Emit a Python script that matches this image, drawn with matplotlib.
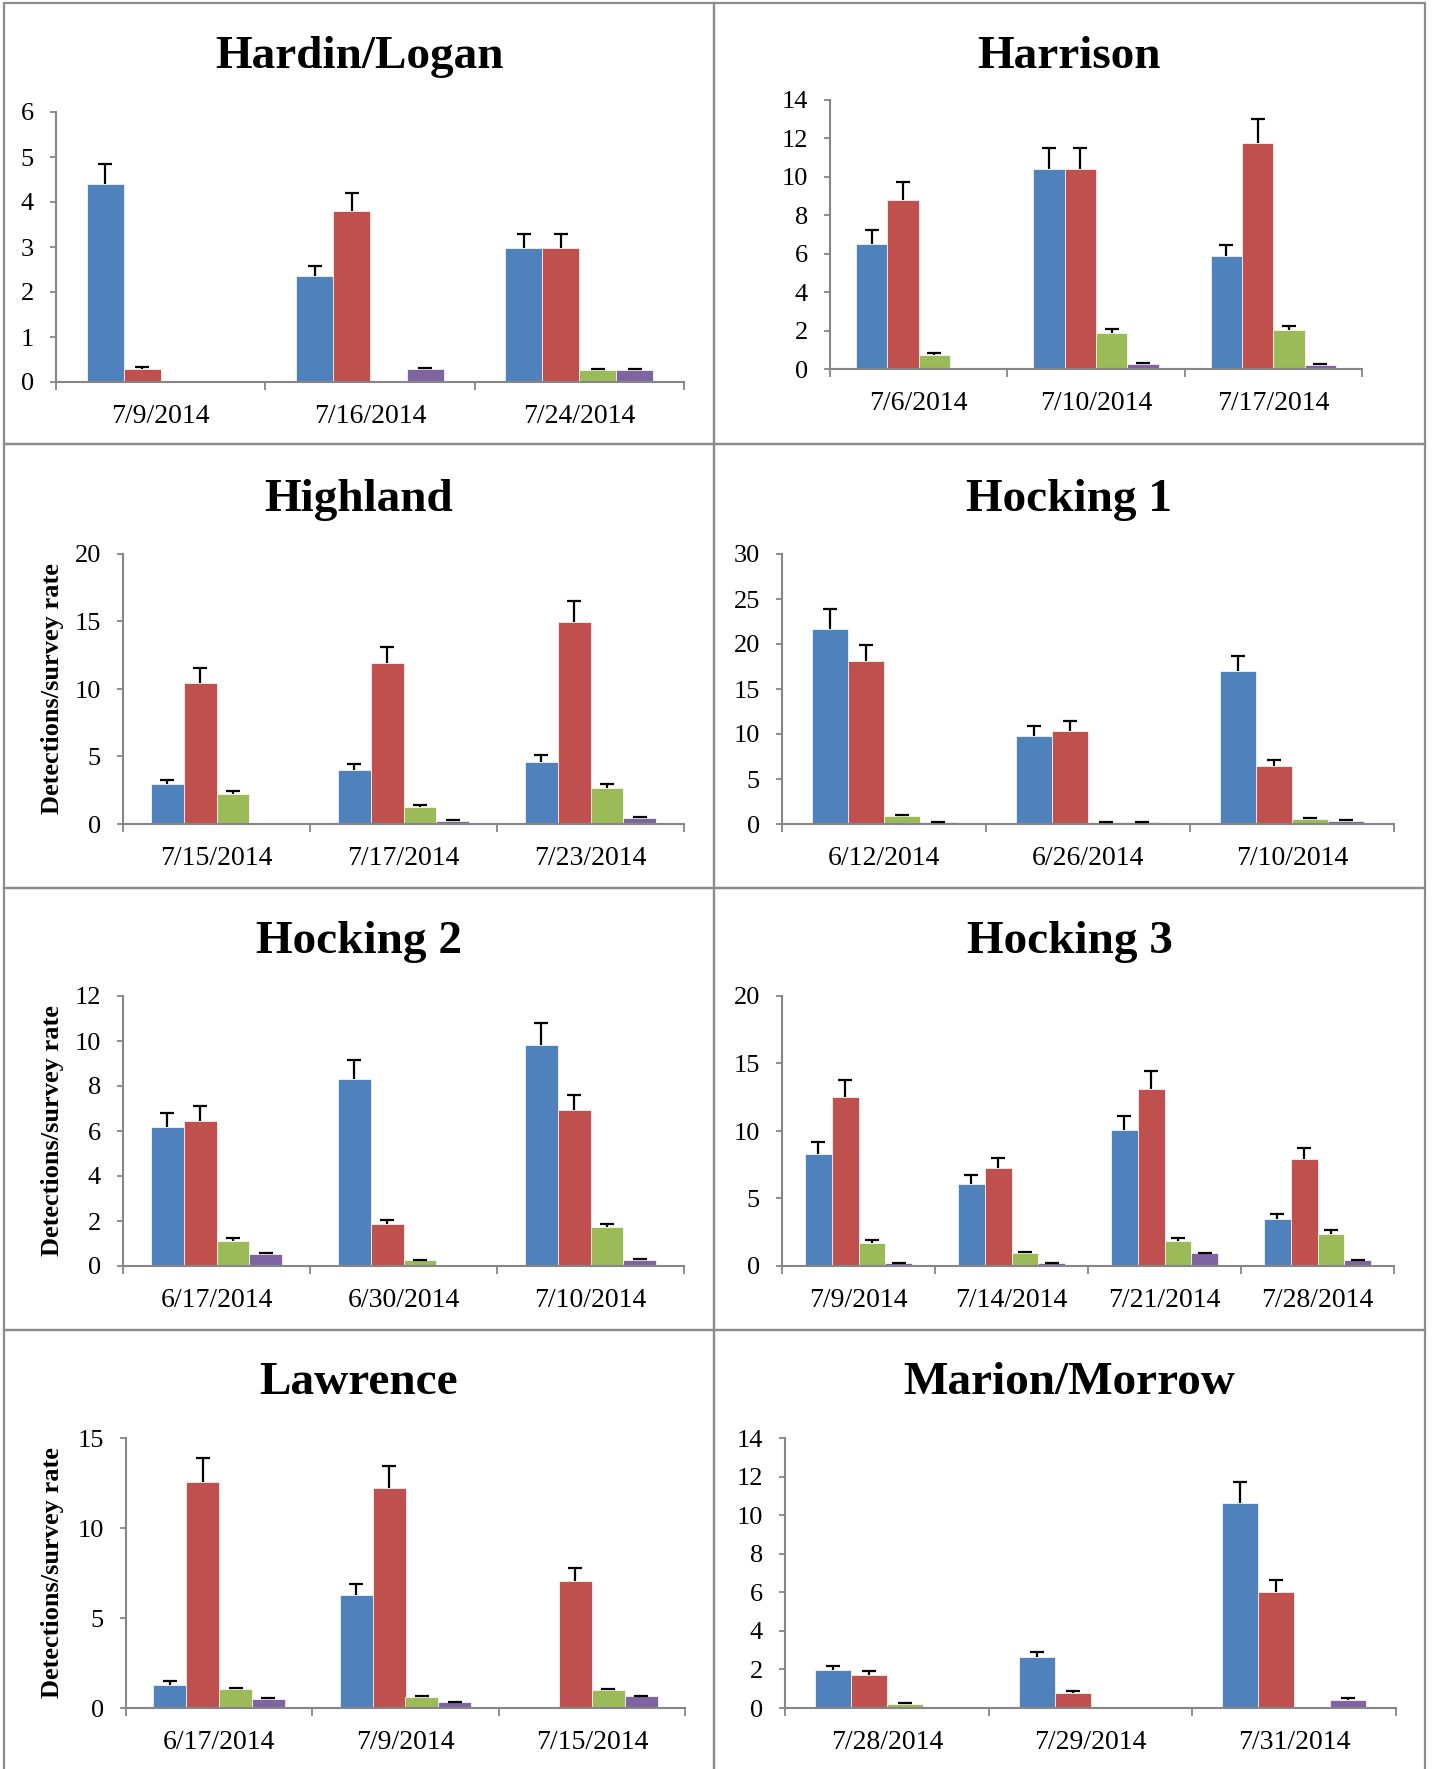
import matplotlib
matplotlib.use('Agg')
import matplotlib.pyplot as plt
from matplotlib.patches import Rectangle
import numpy as np

plt.rcParams['font.family'] = ['Liberation Serif', 'DejaVu Serif']

W, H = 1432, 1769
COLORS = ['#4F81BD', '#C0504D', '#9BBB59', '#8064A2']
AXIS_GRAY = '#868686'
YLABEL = 'Detections/survey rate'

# each county: survey dates, mean rate per series (blue, red, green, purple), SE per series
hardin_dates = ['7/9/2014', '7/16/2014', '7/24/2014']
hardin_means = [[4.41, 2.35, 2.98], [0.28, 3.81, 2.98], [0, 0, 0.26], [0, 0.28, 0.26]]
hardin_errs = [[0.44, 0.23, 0.30], [0.05, 0.40, 0.30], [0, 0, 0.02], [0, 0.03, 0.02]]

harrison_dates = ['7/6/2014', '7/10/2014', '7/17/2014']
harrison_means = [[6.53, 10.43, 5.87], [8.82, 10.43, 11.78], [0.73, 1.89, 2.01], [0, 0.24, 0.21]]
harrison_errs = [[0.68, 1.08, 0.59], [0.90, 1.08, 1.22], [0.08, 0.21, 0.24], [0, 0.05, 0.03]]

highland_dates = ['7/15/2014', '7/17/2014', '7/23/2014']
highland_means = [[2.96, 4.02, 4.62], [10.47, 11.90, 14.96], [2.22, 1.23, 2.67], [0, 0.22, 0.47]]
highland_errs = [[0.32, 0.45, 0.49], [1.09, 1.24, 1.56], [0.25, 0.15, 0.29], [0, 0.05, 0.03]]

hocking1_dates = ['6/12/2014', '6/26/2014', '7/10/2014']
hocking1_means = [[21.63, 9.81, 16.96], [18.07, 10.37, 6.41], [0.93, 0.22, 0.59], [0.22, 0.22, 0.37]]
hocking1_errs = [[2.22, 1.04, 1.74], [1.86, 1.07, 0.70], [0.07, 0.05, 0.04], [0.05, 0.05, 0.04]]

hocking2_dates = ['6/17/2014', '6/30/2014', '7/10/2014']
hocking2_means = [[6.18, 8.33, 9.81], [6.44, 1.87, 6.92], [1.10, 0.25, 1.72], [0.55, 0, 0.27]]
hocking2_errs = [[0.62, 0.84, 0.99], [0.67, 0.19, 0.69], [0.13, 0.03, 0.16], [0.03, 0, 0.03]]

hocking3_dates = ['7/9/2014', '7/14/2014', '7/21/2014', '7/28/2014']
hocking3_means = [[8.32, 6.10, 10.07, 3.51], [12.49, 7.26, 13.14, 7.93],
                  [1.70, 0.94, 1.85, 2.40], [0.22, 0.20, 0.94, 0.42]]
hocking3_errs = [[0.84, 0.62, 1.04, 0.37], [1.31, 0.76, 1.33, 0.79],
                 [0.20, 0.07, 0.20, 0.29], [0.03, 0.03, 0.05, 0.05]]

lawrence_dates = ['6/17/2014', '7/9/2014', '7/15/2014']
lawrence_means = [[1.30, 6.26, 0], [12.56, 12.20, 7.04], [1.04, 0.63, 1.00], [0.52, 0.31, 0.65]]
lawrence_errs = [[0.18, 0.63, 0], [1.31, 1.26, 0.74], [0.05, 0.04, 0.04], [0.04, 0.03, 0.04]]

marion_dates = ['7/28/2014', '7/29/2014', '7/31/2014']
marion_means = [[1.97, 2.64, 10.63], [1.71, 0.78, 6.00], [0.22, 0, 0], [0, 0, 0.43]]
marion_errs = [[0.22, 0.28, 1.07], [0.19, 0.08, 0.62], [0.04, 0, 0], [0, 0, 0.07]]

# (title, dates, means, errs, ymax, ystep, show ylabel, axes box in px: left, right, top, bottom)
panels = [
    ('Hardin/Logan', hardin_dates, hardin_means, hardin_errs, 6, 1, False, (56, 684, 112, 382)),
    ('Harrison', harrison_dates, harrison_means, harrison_errs, 14, 2, False, (830, 1362, 100, 369)),
    ('Highland', highland_dates, highland_means, highland_errs, 20, 5, True, (123, 684, 554, 824)),
    ('Hocking 1', hocking1_dates, hocking1_means, hocking1_errs, 30, 5, False, (782, 1394, 554, 824)),
    ('Hocking 2', hocking2_dates, hocking2_means, hocking2_errs, 12, 2, True, (123, 684, 996, 1266)),
    ('Hocking 3', hocking3_dates, hocking3_means, hocking3_errs, 20, 5, False, (782, 1394, 996, 1266)),
    ('Lawrence', lawrence_dates, lawrence_means, lawrence_errs, 15, 5, True, (126, 685, 1438, 1708)),
    ('Marion/Morrow', marion_dates, marion_means, marion_errs, 14, 2, False, (785, 1396, 1438, 1708)),
]

# frame boxes (left, right, top, bottom) and title baselines per row
col_edges = [(4, 714), (714, 1425)]
row_edges = [(3, 444), (444, 888), (888, 1330), (1330, 1775)]
title_baselines = [68, 511, 953, 1394]


def draw_panel(ax, dates, means, errs, ymax, ystep, ylabel):
    n = len(dates)
    x = np.arange(n)
    width = 1 / (4 + 1.67)
    for i, (m, e, c) in enumerate(zip(means, errs, COLORS)):
        xs = x + (i - 1.5) * width
        m = np.array(m, dtype=float)
        e = np.array(e, dtype=float)
        ax.bar(xs, m, width, color=c, edgecolor='white', linewidth=0.5, zorder=2)
        mask = e > 0
        if mask.any():
            eb = ax.errorbar(xs[mask], m[mask], yerr=[np.zeros(mask.sum()), e[mask]],
                             fmt='none', ecolor='black', elinewidth=1.6,
                             capsize=5, capthick=1.6, zorder=3)
            # only the upper half of the error bar is shown
            for cap in eb[1]:
                if np.allclose(cap.get_ydata(), m[mask]):
                    cap.set_visible(False)

    ax.set_xlim(-0.5, n - 0.5)
    ax.set_ylim(0, ymax)
    ax.set_yticks(np.arange(0, ymax + ystep / 2, ystep))

    for side in ['top', 'right']:
        ax.spines[side].set_visible(False)
    for side in ['left', 'bottom']:
        ax.spines[side].set_color(AXIS_GRAY)
        ax.spines[side].set_linewidth(1.5)

    # tick marks between categories, labels at the category centres
    ax.set_xticks(np.arange(n + 1) - 0.5)
    ax.set_xticklabels([])
    ax.set_xticks(x, minor=True)
    ax.set_xticklabels(dates, minor=True, fontsize=20)
    ax.tick_params(axis='x', which='major', length=6, width=1.3, color=AXIS_GRAY, direction='out')
    ax.tick_params(axis='x', which='minor', length=0, pad=16)
    ax.tick_params(axis='y', length=4, width=1.3, color=AXIS_GRAY, pad=12, labelsize=19)

    if ylabel:
        ax.set_ylabel(YLABEL, fontsize=19, fontweight='bold', va='center')


fig = plt.figure(figsize=(W / 100, H / 100), dpi=100)

for r, (top, bottom) in enumerate(row_edges):
    for c, (left, right) in enumerate(col_edges):
        fig.patches.append(Rectangle((left / W, 1 - bottom / H), (right - left) / W, (bottom - top) / H,
                                     transform=fig.transFigure, fill=False,
                                     edgecolor='#8c8c8c', linewidth=1.6, zorder=0))

for k, (title, dates, means, errs, ymax, ystep, show_ylabel, box) in enumerate(panels):
    left, right, top, bottom = box
    ax = fig.add_axes([left / W, 1 - bottom / H, (right - left) / W, (bottom - top) / H])
    draw_panel(ax, dates, means, errs, ymax, ystep, show_ylabel)
    if show_ylabel:
        ax.yaxis.set_label_coords((53 - left) / (right - left), 0.5)

    row, col = divmod(k, 2)
    cx = sum(col_edges[col]) / 2
    fig.text(cx / W, 1 - title_baselines[row] / H, title, ha='center', va='baseline',
             fontsize=34, fontweight='bold')

fig.savefig('out.png', dpi=100)
